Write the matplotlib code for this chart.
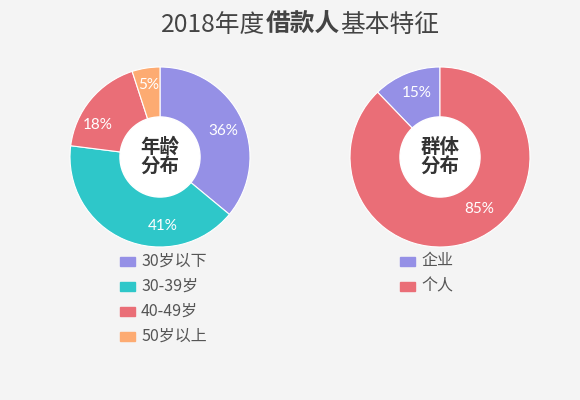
import numpy as np
import matplotlib
matplotlib.use("Agg")
import matplotlib.pyplot as plt
from matplotlib.patches import Circle, Rectangle

# 数据
age_labels = ["30岁以下", "30-39岁", "40-49岁", "50岁以上"]
age_values = [36, 41, 18, 5]
age_texts = ["36%", "41%", "18%", "5%"]

group_labels = ["企业", "个人"]
group_values = [12.2, 87.8]   # Sektorgröße wie im Bild gezeichnet
group_texts = ["15%", "85%"]

age_colors = ["#9590e6", "#2ec7c9", "#ea6e77", "#fdab72"]
group_colors = ["#9590e6", "#ea6e77"]

# Position der Prozenttexte: (Winkel im Uhrzeigersinn ab oben, Radius)
age_text_pos = [(68, 0.76), (178, 0.77), (297, 0.78), (351, 0.81)]
group_text_pos = [(340, 0.76), (143, 0.72)]

W, H = 580, 400
plt.rcParams["font.family"] = ["Noto Sans CJK SC", "DejaVu Sans"]

fig = plt.figure(figsize=(W / 100, H / 100), dpi=100)
fig.patch.set_facecolor("#f4f4f4")


def draw_donut(cx, cy, values, colors, texts, text_pos, center_text, start):
    r = 90
    ax = fig.add_axes([(cx - r) / W, (H - cy - r) / H, 2 * r / W, 2 * r / H])
    ax.pie(values, colors=colors, startangle=start, counterclock=False,
           radius=1, wedgeprops=dict(edgecolor="white", linewidth=0.8))
    ax.add_patch(Circle((0, 0), 0.445, color="white", zorder=3))
    for t, (a, rr) in zip(texts, text_pos):
        rad = np.deg2rad(a)
        ax.text(rr * np.sin(rad), rr * np.cos(rad), t, color="white",
                fontsize=11, ha="center", va="center", family="Lato", zorder=4)
    ax.text(0, 0, center_text, ha="center", va="center", fontsize=14,
            fontweight="bold", color="#333333", linespacing=1.05, zorder=5)
    ax.set_xlim(-1, 1)
    ax.set_ylim(-1, 1)
    ax.set_aspect("auto")
    ax.axis("off")


draw_donut(160, 157, age_values, age_colors, age_texts, age_text_pos, "年龄\n分布", 90)
draw_donut(440, 157, group_values, group_colors, group_texts, group_text_pos, "群体\n分布",
           90 + group_values[0] * 3.6)


# Legenden
def draw_legend(x0, labels, colors):
    for i, (lab, col) in enumerate(zip(labels, colors)):
        y = 261 + i * 25
        fig.add_artist(Rectangle((x0 / W, (H - y - 4.5) / H), 15 / W, 9 / H,
                                 transform=fig.transFigure, color=col))
        fig.text((x0 + 21) / W, 1 - y / H, lab, fontsize=11.5, color="#555555",
                 ha="left", va="center")


draw_legend(120, age_labels, age_colors)
draw_legend(400, group_labels, group_colors)

# Titel mit fettem Mittelteil
renderer = fig.canvas.get_renderer()
parts = [("2018年度", "normal"), ("借款人", "bold"), ("基本特征", "normal")]
objs = []
for txt, w in parts:
    t = fig.text(0, 1 - 25 / H, txt, fontsize=17.8, fontweight=w, color="#444444",
                 ha="left", va="center")
    objs.append(t)
widths = [t.get_window_extent(renderer).width for t in objs]
x = 300 - sum(widths) / 2
for t, wd in zip(objs, widths):
    t.set_x(x / W)
    x += wd

fig.savefig("out.png", dpi=100, facecolor=fig.get_facecolor())
